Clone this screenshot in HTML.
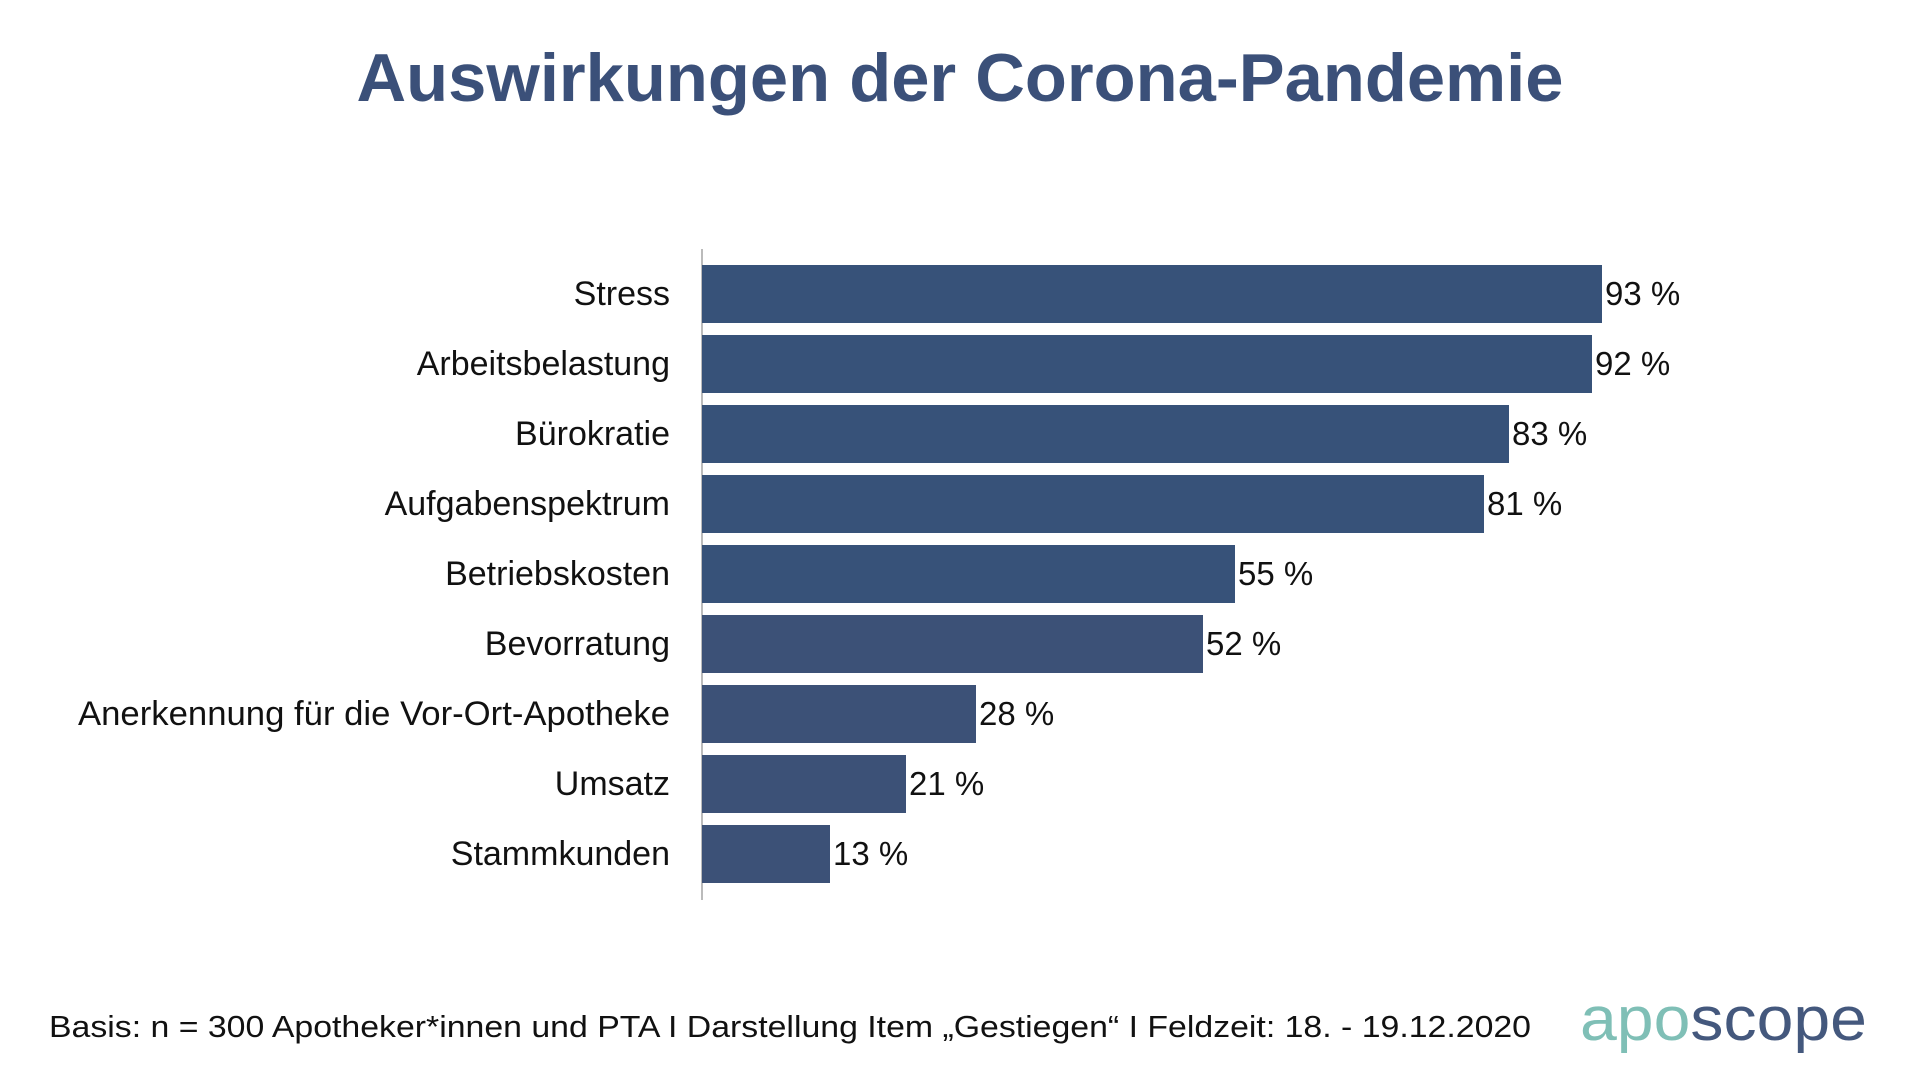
<!DOCTYPE html>
<html><head><meta charset="utf-8"><style>html,body{margin:0;padding:0;background:#fff;}svg{display:block}</style></head>
<body>
<svg width="1920" height="1080" xmlns="http://www.w3.org/2000/svg" font-family="Liberation Sans, sans-serif">
<text x="960" y="101" text-anchor="middle" font-size="68" font-weight="bold" fill="#3b5079" textLength="1207" lengthAdjust="spacingAndGlyphs">Auswirkungen der Corona-Pandemie</text>
<line x1="702" y1="249" x2="702" y2="900" stroke="#777" stroke-width="1"/>
<g fill="#375279">
<rect x="702" y="265" width="900" height="58"/>
<rect x="702" y="335" width="890" height="58"/>
<rect x="702" y="405" width="807" height="58"/>
<rect x="702" y="475" width="782" height="58"/>
<rect x="702" y="545" width="533" height="58"/>
<rect x="702" y="615" width="501" height="58" fill="#3c5177"/>
<rect x="702" y="685" width="274" height="58" fill="#3c5177"/>
<rect x="702" y="755" width="204" height="58" fill="#3c5177"/>
<rect x="702" y="825" width="128" height="58" fill="#3c5177"/>
</g>
<g font-size="34" fill="#111" text-anchor="end">
<text x="670" y="305">Stress</text>
<text x="670" y="375">Arbeitsbelastung</text>
<text x="670" y="445">Bürokratie</text>
<text x="670" y="515">Aufgabenspektrum</text>
<text x="670" y="585">Betriebskosten</text>
<text x="670" y="655">Bevorratung</text>
<text x="670" y="725" textLength="592" lengthAdjust="spacingAndGlyphs">Anerkennung für die Vor-Ort-Apotheke</text>
<text x="670" y="795">Umsatz</text>
<text x="670" y="865">Stammkunden</text>
</g>
<g font-size="33" fill="#111">
<text x="1605" y="305">93 %</text>
<text x="1595" y="375">92 %</text>
<text x="1512" y="445">83 %</text>
<text x="1487" y="515">81 %</text>
<text x="1238" y="585">55 %</text>
<text x="1206" y="655">52 %</text>
<text x="979" y="725">28 %</text>
<text x="909" y="795">21 %</text>
<text x="833" y="865">13 %</text>
</g>
<text x="49" y="1037" font-size="31" fill="#111" textLength="1482" lengthAdjust="spacingAndGlyphs">Basis: n = 300 Apotheker*innen und PTA I Darstellung Item „Gestiegen“ I Feldzeit: 18. - 19.12.2020</text>
<text x="1580" y="1040" font-size="62" textLength="287" lengthAdjust="spacingAndGlyphs"><tspan fill="#7fbfb6">apo</tspan><tspan fill="#44587d">scope</tspan></text>
</svg>
</body></html>
